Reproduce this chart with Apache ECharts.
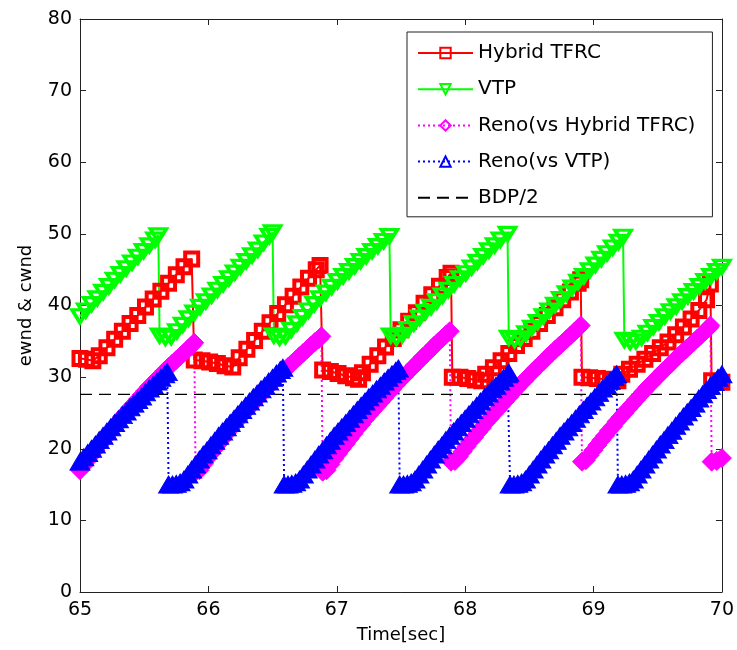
<!DOCTYPE html>
<html>
<head>
<meta charset="utf-8">
<script src="https://cdn.jsdelivr.net/npm/echarts@6/dist/echarts.min.js"></script>
<style>
html,body{margin:0;padding:0;background:#fff;}
#chart{width:737px;height:650px;}
</style>
</head>
<body>
<div id="chart"></div>
<script>
// ---- data (time [sec], value) ----
const seriesNames = ['Hybrid TFRC', 'VTP', 'Reno(vs Hybrid TFRC)', 'Reno(vs VTP)', 'BDP/2'];
const xTicks = [65, 66, 67, 68, 69, 70];
const yTicks = [0, 10, 20, 30, 40, 50, 60, 70, 80];

const hybridTfrc = [
[65.00,32.6],[65.05,32.5],[65.10,32.3],[65.15,33.0],[65.21,34.1],[65.27,35.3],[65.33,36.4],[65.39,37.5],[65.45,38.6],[65.51,39.8],[65.57,40.9],[65.63,42.0],[65.69,43.1],[65.75,44.3],[65.81,45.4],[65.87,46.5],
[65.89,32.4],[65.95,32.3],[66.01,32.1],[66.07,31.9],[66.13,31.6],[66.19,31.4],
[66.24,32.7],[66.30,33.9],[66.36,35.1],[66.42,36.4],[66.48,37.6],[66.54,38.9],[66.60,40.1],[66.66,41.3],[66.72,42.6],[66.78,43.8],[66.84,45.0],[66.87,45.6],
[66.89,31.0],[66.95,30.8],[67.01,30.5],[67.07,30.2],[67.13,29.9],[67.17,29.7],
[67.20,30.6],[67.26,31.8],[67.32,33.0],[67.38,34.2],[67.44,35.4],[67.50,36.6],[67.56,37.8],[67.62,39.0],[67.68,40.3],[67.74,41.5],[67.80,42.7],[67.86,43.9],[67.89,44.5],
[67.90,30.0],[67.96,30.0],[68.02,29.8],[68.08,29.6],[68.13,29.5],
[68.16,30.4],[68.22,31.3],[68.28,32.3],[68.34,33.3],[68.40,34.4],[68.46,35.4],[68.52,36.4],[68.58,37.5],[68.64,38.6],[68.70,39.7],[68.76,40.8],[68.82,41.9],[68.88,43.1],[68.90,43.6],
[68.91,30.0],[68.97,29.9],[69.03,29.8],[69.09,29.7],[69.15,29.6],[69.19,29.5],
[69.22,30.4],[69.28,31.1],[69.34,31.8],[69.40,32.5],[69.46,33.3],[69.52,34.1],[69.58,34.9],[69.64,35.9],[69.70,37.0],[69.76,38.1],[69.82,39.3],[69.88,40.8],[69.91,43.0],
[69.92,29.5],[69.97,29.4],[70.00,29.3]
];

const vtp = [
[65.00,38.5],[65.045,39.3],[65.09,40.2],[65.135,41.0],[65.18,41.9],[65.225,42.7],[65.27,43.6],[65.315,44.4],[65.36,45.2],[65.405,46.0],[65.45,46.8],[65.495,47.6],[65.54,48.4],[65.585,49.2],[65.61,49.8],
[65.62,35.8],[65.665,35.5],[65.71,35.6],[65.755,36.4],[65.80,37.3],[65.845,38.2],[65.89,39.0],[65.935,39.8],[65.98,40.6],[66.025,41.4],[66.07,42.2],[66.115,43.0],[66.16,43.8],[66.205,44.6],[66.25,45.4],[66.295,46.2],[66.34,47.0],[66.385,47.8],[66.43,48.8],[66.475,49.7],[66.50,50.2],
[66.51,35.8],[66.555,35.5],[66.60,35.7],[66.645,36.6],[66.69,37.5],[66.735,38.4],[66.78,39.3],[66.825,40.2],[66.87,41.0],[66.915,41.8],[66.96,42.6],[67.005,43.4],[67.05,44.1],[67.095,44.8],[67.14,45.5],[67.185,46.2],[67.23,46.9],[67.275,47.6],[67.32,48.3],[67.365,49.0],[67.41,49.7],
[67.42,35.8],[67.465,35.5],[67.51,35.9],[67.555,36.7],[67.60,37.5],[67.645,38.3],[67.69,39.1],[67.735,39.8],[67.78,40.6],[67.825,41.4],[67.87,42.2],[67.915,43.0],[67.96,43.8],[68.005,44.5],[68.05,45.3],[68.095,46.1],[68.14,46.9],[68.185,47.7],[68.23,48.4],[68.275,49.2],[68.33,50.0],
[68.34,35.5],[68.385,35.2],[68.43,35.4],[68.475,36.1],[68.52,36.9],[68.565,37.7],[68.61,38.5],[68.655,39.3],[68.70,40.1],[68.745,40.9],[68.79,41.7],[68.835,42.5],[68.88,43.3],[68.925,44.1],[68.97,44.9],[69.015,45.7],[69.06,46.5],[69.105,47.3],[69.15,48.1],[69.195,48.9],[69.23,49.6],
[69.24,35.2],[69.285,34.9],[69.33,35.0],[69.375,35.5],[69.42,36.2],[69.465,37.0],[69.51,37.7],[69.555,38.5],[69.60,39.2],[69.645,39.9],[69.69,40.6],[69.735,41.3],[69.78,42.0],[69.825,42.7],[69.87,43.4],[69.915,44.1],[69.96,44.8],[70.00,45.4]
];

const renoVsHybrid = [
[65.00,17.0],[65.03,17.7],[65.06,18.4],[65.09,19.1],[65.12,19.8],[65.15,20.5],[65.18,21.2],[65.21,21.9],[65.24,22.5],[65.27,23.2],[65.30,23.8],[65.33,24.5],[65.36,25.1],[65.39,25.7],[65.42,26.3],[65.45,26.9],[65.48,27.5],[65.51,28.1],[65.54,28.7],[65.57,29.2],[65.60,29.8],[65.63,30.3],[65.66,30.9],[65.69,31.4],[65.72,31.9],[65.75,32.4],[65.78,32.9],[65.81,33.4],[65.84,33.9],[65.87,34.4],[65.89,34.8],
[65.90,16.8],[65.93,17.0],[65.96,17.8],[65.99,18.6],[66.02,19.3],[66.05,20.0],[66.08,20.7],[66.11,21.4],[66.14,22.1],[66.17,22.7],[66.20,23.4],[66.23,24.0],[66.26,24.6],[66.29,25.2],[66.32,25.8],[66.35,26.4],[66.38,27.0],[66.41,27.6],[66.44,28.2],[66.47,28.7],[66.50,29.3],[66.53,29.8],[66.56,30.4],[66.59,30.9],[66.62,31.4],[66.65,31.9],[66.68,32.4],[66.71,32.9],[66.74,33.4],[66.77,33.9],[66.80,34.4],[66.83,34.9],[66.86,35.3],[66.88,35.7],
[66.89,16.8],[66.92,17.0],[66.95,17.8],[66.98,18.6],[67.01,19.3],[67.04,20.0],[67.07,20.7],[67.10,21.4],[67.13,22.1],[67.16,22.8],[67.19,23.4],[67.22,24.1],[67.25,24.7],[67.28,25.3],[67.31,25.9],[67.34,26.5],[67.37,27.1],[67.40,27.7],[67.43,28.3],[67.46,28.9],[67.49,29.5],[67.52,30.0],[67.55,30.6],[67.58,31.1],[67.61,31.7],[67.64,32.2],[67.67,32.8],[67.70,33.3],[67.73,33.8],[67.76,34.4],[67.79,34.9],[67.82,35.4],[67.85,35.9],[67.88,36.4],
[67.89,18.2],[67.92,18.3],[67.95,18.9],[67.98,19.6],[68.01,20.3],[68.04,21.0],[68.07,21.6],[68.10,22.3],[68.13,22.9],[68.16,23.6],[68.19,24.2],[68.22,24.8],[68.25,25.4],[68.28,26.0],[68.31,26.6],[68.34,27.2],[68.37,27.8],[68.40,28.4],[68.43,29.0],[68.46,29.5],[68.49,30.1],[68.52,30.6],[68.55,31.2],[68.58,31.7],[68.61,32.2],[68.64,32.8],[68.67,33.3],[68.70,33.8],[68.73,34.3],[68.76,34.8],[68.79,35.3],[68.82,35.8],[68.85,36.3],[68.88,36.8],[68.90,37.2],
[68.91,18.2],[68.94,18.4],[68.97,19.1],[69.00,19.8],[69.03,20.5],[69.06,21.2],[69.09,21.8],[69.12,22.5],[69.15,23.1],[69.18,23.8],[69.21,24.4],[69.24,25.0],[69.27,25.6],[69.30,26.2],[69.33,26.8],[69.36,27.4],[69.39,28.0],[69.42,28.6],[69.45,29.1],[69.48,29.7],[69.51,30.2],[69.54,30.8],[69.57,31.3],[69.60,31.8],[69.63,32.4],[69.66,32.9],[69.69,33.4],[69.72,33.9],[69.75,34.4],[69.78,34.9],[69.81,35.4],[69.84,35.9],[69.87,36.4],[69.90,36.9],[69.91,37.2],
[69.92,18.2],[69.96,18.3],[70.00,18.7]
];

const renoVsVtp = [
[65.00,18.2],[65.03,18.8],[65.06,19.4],[65.09,20.0],[65.12,20.6],[65.15,21.2],[65.18,21.8],[65.21,22.4],[65.24,23.0],[65.27,23.6],[65.30,24.1],[65.33,24.7],[65.36,25.2],[65.39,25.8],[65.42,26.3],[65.45,26.8],[65.48,27.3],[65.51,27.9],[65.54,28.4],[65.57,28.9],[65.60,29.4],[65.63,29.9],[65.66,30.4],[65.68,30.7],
[65.69,15.0],[65.72,15.0],[65.75,15.1],[65.78,15.3],[65.81,15.7],[65.84,16.4],[65.87,17.1],[65.90,17.8],[65.93,18.5],[65.96,19.2],[65.99,19.8],[66.02,20.5],[66.05,21.1],[66.08,21.8],[66.11,22.4],[66.14,23.0],[66.17,23.6],[66.20,24.2],[66.23,24.8],[66.26,25.4],[66.29,26.0],[66.32,26.6],[66.35,27.2],[66.38,27.7],[66.41,28.3],[66.44,28.8],[66.47,29.4],[66.50,29.9],[66.53,30.5],[66.56,31.0],[66.58,31.3],
[66.59,15.0],[66.62,15.0],[66.65,15.1],[66.68,15.3],[66.71,15.7],[66.74,16.4],[66.77,17.1],[66.80,17.8],[66.83,18.5],[66.86,19.2],[66.89,19.8],[66.92,20.5],[66.95,21.1],[66.98,21.8],[67.01,22.4],[67.04,23.0],[67.07,23.6],[67.10,24.2],[67.13,24.8],[67.16,25.4],[67.19,26.0],[67.22,26.6],[67.25,27.2],[67.28,27.7],[67.31,28.3],[67.34,28.8],[67.37,29.4],[67.40,29.9],[67.43,30.4],[67.46,30.9],[67.48,31.2],
[67.49,15.0],[67.52,15.0],[67.55,15.1],[67.58,15.3],[67.61,15.7],[67.64,16.4],[67.67,17.1],[67.70,17.8],[67.73,18.5],[67.76,19.2],[67.79,19.9],[67.82,20.5],[67.85,21.2],[67.88,21.8],[67.91,22.4],[67.94,23.0],[67.97,23.6],[68.00,24.2],[68.03,24.8],[68.06,25.4],[68.09,26.0],[68.12,26.6],[68.15,27.2],[68.18,27.7],[68.21,28.3],[68.24,28.8],[68.27,29.4],[68.30,29.9],[68.33,30.4],[68.34,30.6],
[68.35,15.0],[68.38,15.0],[68.41,15.1],[68.44,15.3],[68.47,15.7],[68.50,16.4],[68.53,17.1],[68.56,17.8],[68.59,18.5],[68.62,19.2],[68.65,19.8],[68.68,20.5],[68.71,21.1],[68.74,21.8],[68.77,22.4],[68.80,23.0],[68.83,23.6],[68.86,24.2],[68.89,24.8],[68.92,25.4],[68.95,26.0],[68.98,26.6],[69.01,27.2],[69.04,27.8],[69.07,28.4],[69.10,28.9],[69.13,29.5],[69.16,30.0],[69.18,30.4],
[69.19,15.0],[69.22,15.0],[69.25,15.1],[69.28,15.3],[69.31,15.7],[69.34,16.4],[69.37,17.1],[69.40,17.8],[69.43,18.5],[69.46,19.2],[69.49,19.9],[69.52,20.6],[69.55,21.2],[69.58,21.9],[69.61,22.5],[69.64,23.2],[69.67,23.8],[69.70,24.5],[69.73,25.1],[69.76,25.7],[69.79,26.3],[69.82,27.0],[69.85,27.6],[69.88,28.2],[69.91,28.8],[69.94,29.3],[69.97,29.9],[70.00,30.4]
];

const bdpHalf = [[65, 27.6], [70, 27.6]];

// ---- chart ----
const FONT = 'DejaVu Sans';
const RED = '#ff0000', GREEN = '#00ff00', PINK = '#ff00ff', BLUE = '#0000ff';
const CLEAR = 'rgba(255,255,255,0)';
const chart = echarts.init(document.getElementById('chart'), null, {renderer: 'canvas'});

function axisCommon() {
  return {
    axisLine: {show: true, onZero: false, lineStyle: {color: '#222', width: 1}},
    axisTick: {show: true, inside: true, length: 6, lineStyle: {color: '#222', width: 1}},
    splitLine: {show: false}
  };
}

const option = {
  animation: false,
  backgroundColor: '#fff',
  grid: {left: 80, right: 13, top: 19, bottom: 58, containLabel: false},
  legend: {
    orient: 'vertical', left: 407, top: 32,
    padding: [11, 17, 9, 10],
    itemGap: 16.2, itemWidth: 55, itemHeight: 13,
    backgroundColor: '#fff', borderColor: '#222', borderWidth: 1, borderRadius: 0,
    textStyle: {fontFamily: FONT, fontSize: 20, color: '#000'},
    data: [
      {name: seriesNames[0], itemStyle: {color: CLEAR, borderColor: RED, borderWidth: 2}},
      {name: seriesNames[1], itemStyle: {color: CLEAR, borderColor: GREEN, borderWidth: 2}},
      {name: seriesNames[2], itemStyle: {color: CLEAR, borderColor: PINK, borderWidth: 2}},
      {name: seriesNames[3], itemStyle: {color: CLEAR, borderColor: BLUE, borderWidth: 2}},
      {name: seriesNames[4], itemStyle: {opacity: 0}}
    ]
  },
  xAxis: [
    Object.assign(axisCommon(), {
      type: 'value', min: xTicks[0], max: xTicks[xTicks.length - 1], interval: 1,
      position: 'bottom',
      name: 'Time[sec]', nameLocation: 'middle', nameGap: 34,
      nameTextStyle: {fontFamily: FONT, fontSize: 18, color: '#000'},
      axisLabel: {fontFamily: FONT, fontSize: 19, color: '#000', margin: 9}
    }),
    Object.assign(axisCommon(), {
      type: 'value', min: xTicks[0], max: xTicks[xTicks.length - 1], interval: 1,
      position: 'top', axisLabel: {show: false}
    })
  ],
  yAxis: [
    Object.assign(axisCommon(), {
      type: 'value', min: yTicks[0], max: yTicks[yTicks.length - 1], interval: 10,
      position: 'left',
      name: 'ewnd & cwnd', nameLocation: 'middle', nameGap: 45,
      nameTextStyle: {fontFamily: FONT, fontSize: 18, color: '#000'},
      axisLabel: {fontFamily: FONT, fontSize: 19, color: '#000', margin: 8}
    }),
    Object.assign(axisCommon(), {
      type: 'value', min: yTicks[0], max: yTicks[yTicks.length - 1], interval: 10,
      position: 'right', axisLabel: {show: false}
    })
  ],
  series: [
    {
      name: seriesNames[0], type: 'line', data: hybridTfrc, clip: false,
      symbol: 'rect', symbolSize: 13,
      lineStyle: {color: RED, width: 2},
      itemStyle: {color: CLEAR, borderColor: RED, borderWidth: 4}
    },
    {
      name: seriesNames[1], type: 'line', data: vtp, clip: false,
      symbol: 'triangle', symbolRotate: 180, symbolSize: [16, 13],
      lineStyle: {color: GREEN, width: 2},
      itemStyle: {color: CLEAR, borderColor: GREEN, borderWidth: 3.5}
    },
    {
      name: seriesNames[2], type: 'line', data: renoVsHybrid, clip: false,
      symbol: 'diamond', symbolSize: 19,
      lineStyle: {color: PINK, width: 2, type: [2, 3]},
      itemStyle: {color: PINK, borderColor: PINK, borderWidth: 1}
    },
    {
      name: seriesNames[3], type: 'line', data: renoVsVtp, clip: false,
      symbol: 'triangle', symbolSize: [20, 17],
      lineStyle: {color: BLUE, width: 2, type: [2, 3]},
      itemStyle: {color: BLUE, borderColor: BLUE, borderWidth: 1}
    },
    {
      name: seriesNames[4], type: 'line', data: bdpHalf, symbol: 'none',
      lineStyle: {color: '#000', width: 1.2, type: [12, 7]},
      itemStyle: {color: '#000'}
    }
  ]
};
chart.setOption(option);
</script>
</body>
</html>
